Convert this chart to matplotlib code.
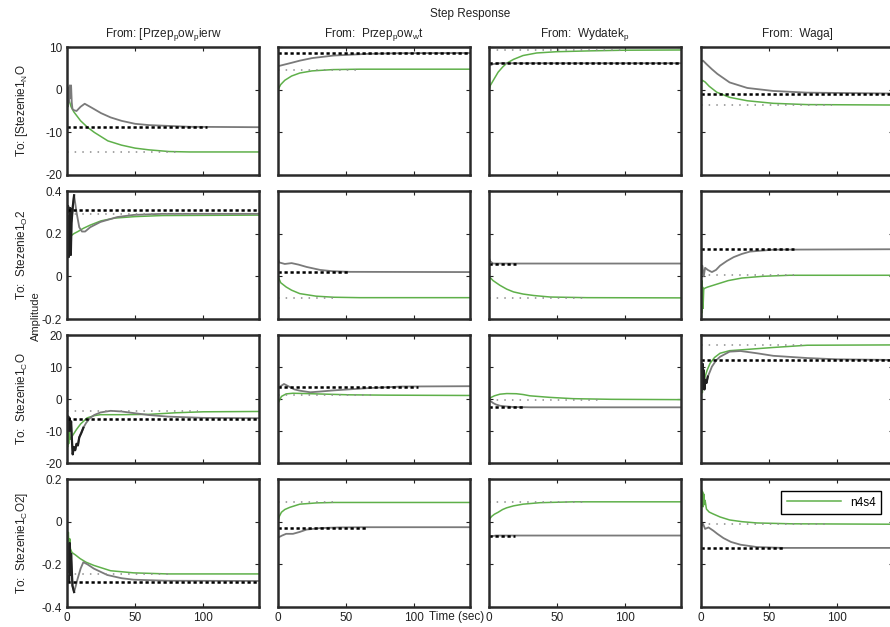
import matplotlib.pyplot as plt

plt.rcParams['font.family'] = ['Liberation Sans', 'DejaVu Sans']
plt.rcParams['mathtext.fontset'] = 'custom'
plt.rcParams['mathtext.rm'] = 'Liberation Sans'
plt.rcParams['axes.unicode_minus'] = False

COL_TITLES = ['From: [Przep$_\\mathrm{p}$ow$_\\mathrm{p}$ierw',
              'From:  Przep$_\\mathrm{p}$ow$_\\mathrm{w}$t',
              'From:  Wydatek$_\\mathrm{p}$',
              'From:  Waga]']
ROW_LABELS = ['To: [Stezenie1$_\\mathrm{N}$O',
              'To:  Stezenie1$_\\mathrm{O}$2',
              'To:  Stezenie1$_\\mathrm{C}$O',
              'To:  Stezenie1$_\\mathrm{C}$O2]']

YLIMS = [(-20, 10), (-0.2, 0.4), (-20, 20), (-0.4, 0.2)]
YTICKS = [[-20, -10, 0, 10], [-0.2, 0, 0.2, 0.4], [-20, -10, 0, 10, 20], [-0.4, -0.2, 0, 0.2]]
YTICKLABELS = [['-20', '-10', '0', '10'], ['-0.2', '0', '0.2', '0.4'],
               ['-20', '-10', '0', '10', '20'], ['-0.4', '-0.2', '0', '0.2']]
XTICKS = [0, 50, 100]
T_END = 141

# gray = measured system, n = n4s4 model (green)
# row 1
g11_t = [0, 0.5, 1, 1.5, 2, 2.5, 3, 3.5, 4, 5, 7, 10, 13, 18, 25, 32, 40, 50, 60, 75, 90, 141]
g11_y = [0, -4, 0.5, -3, 1, -2, 1, -3, -4.5, -4.8, -5, -4, -3.3, -4.2, -5.5, -6.5, -7.3, -8, -8.3, -8.5, -8.7, -8.8]
n11_t = [0, 1, 3, 5, 10, 15, 20, 25, 30, 40, 50, 60, 75, 90, 141]
n11_y = [0, -2, -4, -5.2, -7.3, -8.8, -10, -11, -12, -13, -13.7, -14.1, -14.5, -14.6, -14.6]
g12_t = [0, 5, 10, 16, 25, 41, 66, 90, 141]
g12_y = [5.5, 5.9, 6.3, 6.8, 7.4, 8.0, 8.4, 8.55, 8.6]
n12_t = [0, 2, 5, 10, 16, 25, 40, 60, 141]
n12_y = [0, 1.2, 2.2, 3.2, 3.9, 4.4, 4.7, 4.8, 4.8]
g13_t = [0, 3, 8, 141]
g13_y = [5.6, 6.0, 6.2, 6.2]
n13_t = [0, 1, 3, 6.7, 10, 13, 18, 25, 35, 50, 75, 100, 141]
n13_y = [0, 1, 2.1, 4.1, 5.3, 6.2, 7.1, 8.0, 8.6, 8.9, 9.1, 9.25, 9.3]
g14_t = [0, 1.5, 4, 8, 12, 21, 34, 53, 78, 141]
g14_y = [6.6, 6.8, 6.0, 4.8, 3.7, 1.7, 0.4, -0.3, -0.7, -0.9]
n14_t = [0, 1, 3, 6, 11.6, 21, 34, 53, 78, 141]
n14_y = [1.5, 2.2, 1.8, 0.8, -0.6, -1.8, -2.6, -3.2, -3.5, -3.6]
# row 2
g21_t = [0, 0.4, 0.8, 1.2, 1.6, 2, 2.4, 2.8, 3.3, 4.3, 5.2, 7, 9, 11, 13.3, 17, 24.6, 37, 49, 70, 141]
g21_y = [0.3, 0.1, 0.33, 0.09, 0.3, 0.12, 0.32, 0.1, 0.25, 0.33, 0.38, 0.3, 0.23, 0.21, 0.21, 0.23, 0.255, 0.278, 0.288, 0.293, 0.293]
n21_t = [0, 0.5, 1, 1.5, 2, 3, 5, 8, 12, 17, 25, 35, 50, 70, 141]
n21_y = [0.3, 0.15, 0.25, 0.17, 0.2, 0.19, 0.2, 0.21, 0.225, 0.24, 0.26, 0.273, 0.28, 0.285, 0.287]
g22_t = [0, 1, 5, 10, 15, 21, 31, 40, 53, 141]
g22_y = [0.08, 0.065, 0.058, 0.062, 0.055, 0.044, 0.03, 0.024, 0.021, 0.02]
n22_t = [0, 2, 6, 10, 16, 28, 41, 60, 141]
n22_y = [0, -0.03, -0.05, -0.065, -0.081, -0.093, -0.098, -0.1, -0.1]
g23_t = [0, 1, 3, 141]
g23_y = [0.085, 0.07, 0.06, 0.06]
n23_t = [0, 3, 8, 13, 18, 25, 33, 45, 72, 141]
n23_y = [0, -0.02, -0.042, -0.06, -0.073, -0.083, -0.09, -0.097, -0.1, -0.101]
g24_t = [0, 1, 2, 3, 5, 8, 11, 14, 19, 24, 30, 36, 53, 141]
g24_y = [0.0, 0.05, 0.0, 0.04, 0.03, 0.02, 0.03, 0.05, 0.072, 0.09, 0.105, 0.116, 0.125, 0.127]
n24_t = [0, 0.3, 0.6, 0.9, 1.2, 1.5, 2, 3, 5, 10, 20, 30, 45, 65, 141]
n24_y = [0, -0.19, -0.02, -0.17, -0.05, -0.15, -0.06, -0.055, -0.05, -0.04, -0.02, -0.008, 0.0, 0.005, 0.005]
# row 3
g31_t = [0, 0.5, 1, 1.5, 2, 2.5, 3, 3.5, 4.2, 5, 6, 7, 8, 9, 10.5, 12, 14, 17, 20, 24.6, 32, 40, 49, 60, 74, 100, 141]
g31_y = [-5, -9, -5.5, -10, -6, -9.5, -7, -12, -17.3, -15, -16, -14, -14.5, -12, -10.6, -9, -7.5, -5.9, -5, -4.2, -3.7, -3.9, -4.4, -5, -5.5, -5.9, -6.0]
n31_t = [0, 0.4, 0.8, 1.2, 1.6, 2.5, 4, 7, 10, 14.8, 20, 24.6, 40, 60, 80, 100, 141]
n31_y = [0, -15, -8, -14, -10, -12.6, -11.5, -9.5, -7.8, -5.9, -5.2, -4.9, -4.9, -4.8, -4.3, -4.0, -3.9]
g32_t = [0, 2, 4.4, 8, 12, 16, 23.7, 30, 41, 66, 91, 141]
g32_y = [3.4, 4.0, 4.7, 3.9, 3.0, 2.6, 2.1, 2.3, 2.7, 3.4, 3.9, 4.0]
n32_t = [0, 1, 2.5, 6, 11, 20, 28, 53, 80, 141]
n32_y = [-1.3, -0.5, 0.8, 1.6, 1.8, 1.7, 1.6, 1.3, 1.2, 1.1]
g33_t = [0, 1, 3, 5, 8, 12, 18, 30, 141]
g33_y = [0, -0.6, -1.25, -1.7, -2.1, -2.3, -2.5, -2.6, -2.6]
n33_t = [0, 2, 4, 8, 13, 20, 25, 30, 45, 62, 90, 141]
n33_y = [0, 0.6, 1.0, 1.5, 1.7, 1.65, 1.4, 1.0, 0.5, 0.1, -0.1, -0.2]
g34_t = [0, 0.4, 0.8, 1.2, 1.6, 2, 2.5, 3, 4, 5, 6.5, 8, 11, 14, 21, 29, 41, 53, 78, 100, 141]
g34_y = [2, 10, 3, 11, 4, 9, 3, 6, 5, 7, 8.5, 10.1, 12, 13.2, 14.8, 15.0, 14.3, 13.5, 12.8, 12.4, 12.2]
n34_t = [0, 0.5, 1, 1.5, 2, 3, 4.5, 6.7, 10, 14, 21, 34, 53, 78, 141]
n34_y = [0, 8, 2, 9, 4, 7, 9, 11.2, 13, 14.3, 15.1, 15.5, 16.1, 16.8, 16.9]
# row 4
g41_t = [0, 0.5, 1, 1.5, 2, 2.5, 3, 4, 5.2, 6.5, 7.7, 10, 12, 15, 19.7, 29.6, 40, 49, 74, 141]
g41_y = [-0.1, -0.25, -0.12, -0.28, -0.1, -0.25, -0.15, -0.3, -0.33, -0.3, -0.27, -0.22, -0.19, -0.2, -0.22, -0.25, -0.265, -0.272, -0.277, -0.278]
n41_t = [0, 0.5, 1, 1.5, 2, 2.5, 3.7, 6, 9.6, 14, 19.7, 32, 49, 74, 141]
n41_y = [0, -0.1, -0.05, -0.13, -0.08, -0.127, -0.145, -0.155, -0.173, -0.19, -0.205, -0.23, -0.24, -0.245, -0.245]
g42_t = [0, 3, 6, 11, 16, 21, 31, 45, 66, 141]
g42_y = [-0.075, -0.065, -0.057, -0.057, -0.048, -0.037, -0.03, -0.027, -0.026, -0.026]
n42_t = [0, 1, 2.5, 5, 8.6, 16, 28.5, 41, 141]
n42_y = [0.005, 0.025, 0.044, 0.057, 0.067, 0.082, 0.088, 0.09, 0.09]
g43_t = [0, 2, 5, 141]
g43_y = [-0.075, -0.068, -0.065, -0.065]
n43_t = [0, 2, 4, 6.7, 10, 13, 18, 25, 37.5, 62, 141]
n43_y = [0.01, 0.025, 0.035, 0.044, 0.057, 0.065, 0.074, 0.082, 0.089, 0.093, 0.093]
g44_t = [0, 0.5, 1.5, 3, 5.5, 9, 12, 16.5, 22, 29, 41, 60, 141]
g44_y = [0.0, -0.02, -0.01, -0.034, -0.027, -0.042, -0.057, -0.077, -0.095, -0.108, -0.119, -0.123, -0.123]
n44_t = [0, 0.4, 0.8, 1.2, 1.6, 2, 2.5, 3, 4, 6, 9, 14, 21, 30, 41, 66, 141]
n44_y = [0, 0.15, 0.08, 0.14, 0.07, 0.13, 0.08, 0.1, 0.059, 0.045, 0.036, 0.022, 0.008, 0.0, -0.006, -0.01, -0.012]

# steady-state markers: value and time where the marker line stops
GRAY_SS = [[-8.8, 8.6, 6.2, -1.0],
           [0.309, 0.02, 0.06, 0.127],
           [-6.1, 3.9, -2.6, 12.2],
           [-0.285, -0.028, -0.065, -0.123]]
GRAY_SS_END = [[103, 141, 141, 141],
               [141, 53, 20, 68],
               [141, 103, 25, 141],
               [141, 66, 19, 62]]
GREEN_SS = [[-14.6, 4.7, 9.3, -3.6],
            [0.29, -0.1, -0.1, 0.005],
            [-3.8, 1.2, -0.4, 16.9],
            [-0.245, 0.09, 0.093, -0.01]]
GREEN_SS_END = [[81, 59, 100, 96],
                [99, 41, 72, 68],
                [96, 68, 80, 78],
                [76, 45, 72, 93]]
# time up to which the fast transient looks dark (dense overlapping samples)
DARK_END = [[0, 0, 0, 0],
            [6, 0, 0, 0],
            [12, 0, 0, 6],
            [6, 0, 0, 0]]

GRAY = {(i, j): (globals()['g%d%d_t' % (i + 1, j + 1)], globals()['g%d%d_y' % (i + 1, j + 1)])
        for i in range(4) for j in range(4)}
GREEN = {(i, j): (globals()['n%d%d_t' % (i + 1, j + 1)], globals()['n%d%d_y' % (i + 1, j + 1)])
         for i in range(4) for j in range(4)}

W, H = 890, 627
fig = plt.figure(figsize=(W / 100, H / 100), dpi=100)

lefts = [67, 278, 489, 701]
tops = [47, 191, 335, 479]
aw, ah = 192, 128

for i in range(4):
    for j in range(4):
        ax = fig.add_axes([lefts[j] / W, 1 - (tops[i] + ah) / H, aw / W, ah / H])
        gt, gy = GRAY[(i, j)]
        nt, ny = GREEN[(i, j)]
        green_line, = ax.plot(nt, ny, color='#5fb04a', linewidth=1.1, label='n4s4')
        ax.plot(gt, gy, color='#7a7a7a', linewidth=1.3)
        d = DARK_END[i][j]
        if d:
            dt = [t for t in gt if t <= d]
            ax.plot(dt, gy[:len(dt)], color='#202020', linewidth=1.6)
        ax.plot([0, GREEN_SS_END[i][j]], [GREEN_SS[i][j]] * 2, color='#8c8c8c',
                linewidth=1.1, linestyle=(0, (1, 4)))
        ax.plot([0, GRAY_SS_END[i][j]], [GRAY_SS[i][j]] * 2, color='black',
                linewidth=1.8, linestyle=(0, (1.3, 1.1)))

        ax.set_xlim(0, T_END)
        ax.set_ylim(*YLIMS[i])
        ax.set_xticks(XTICKS)
        ax.set_yticks(YTICKS[i])
        ax.tick_params(direction='in', length=3, width=0.8, top=True, right=True,
                       labelsize=8.5, colors='#222222')
        if j == 0:
            ax.set_yticklabels(YTICKLABELS[i])
        else:
            ax.set_yticklabels([])
        if i == 3:
            ax.set_xticklabels([str(v) for v in XTICKS])
        else:
            ax.set_xticklabels([])
        for s in ax.spines.values():
            s.set_linewidth(1.8)
            s.set_color('#2a2a2a')
        if i == 0:
            ax.set_title(COL_TITLES[j], fontsize=8.5, pad=7, color='#222222')
        if i == 3 and j == 3:
            ax.legend(handles=[green_line], loc='upper right', bbox_to_anchor=(0.97, 0.95),
                      fontsize=8.5, handlelength=4.6, fancybox=False, edgecolor='black',
                      framealpha=1, borderpad=0.45)

for i in range(4):
    fig.text(22 / W, 1 - (tops[i] + ah / 2) / H, ROW_LABELS[i], rotation=90,
             ha='center', va='center', fontsize=8.5, color='#222222')

fig.text(470 / W, 1 - 14 / H, 'Step Response', ha='center', va='center', fontsize=8.5, color='#222222')
fig.text(36 / W, 1 - 316 / H, 'Amplitude', rotation=90, ha='center', va='center',
         fontsize=8, color='#222222')
fig.text(457 / W, 1 - 617 / H, 'Time (sec)', ha='center', va='center', fontsize=8.5, color='#222222')

fig.savefig('out.png', dpi=100)
